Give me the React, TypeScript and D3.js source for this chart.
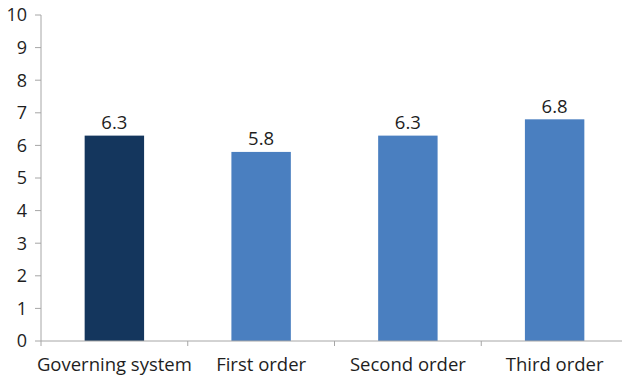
import React from "react";
import * as d3 from "d3";

const categories = ["Governing system", "First order", "Second order", "Third order"];
const values = [6.3, 5.8, 6.3, 6.8];
const yTicks = [0, 1, 2, 3, 4, 5, 6, 7, 8, 9, 10];
const barColors = ["#14365d", "#4a7fc0", "#4a7fc0", "#4a7fc0"];

const W = 622;
const H = 377;
const left = 41;
const right = 628;
const top = 15;
const bottom = 341;
const FONT = "'Open Sans', 'Noto Sans', sans-serif";
const AXIS = "#a6a6a6";
const TEXT = "#1e1e1e";

export default function App() {
  const x = d3.scaleBand<string>().domain(categories).range([left, right]).paddingInner(0).paddingOuter(0);
  const y = d3.scaleLinear().domain([0, 10]).range([bottom, top]);
  const bw = x.bandwidth() * 0.405;

  return (
    <svg width={W} height={H} style={{ position: "absolute", left: 0, top: 0 }}>
      {categories.map((c, i) => {
        const cx = (x(c) as number) + x.bandwidth() / 2;
        return (
          <g key={c}>
            <rect x={cx - bw / 2} y={y(values[i])} width={bw} height={bottom - y(values[i])} fill={barColors[i]} />
            <text x={cx} y={y(values[i]) - 6.5} textAnchor="middle" fontFamily={FONT} fontSize={18.5} fill={TEXT}>
              {values[i].toFixed(1)}
            </text>
            <text x={cx} y={bottom + 30} textAnchor="middle" fontFamily={FONT} fontSize={18.5} fill={TEXT}>
              {c}
            </text>
          </g>
        );
      })}
      {/* value axis */}
      <line x1={left} x2={left} y1={top} y2={bottom} stroke={AXIS} strokeWidth={1} />
      {yTicks.map((t) => (
        <g key={t}>
          <line x1={left - 6} x2={left} y1={y(t)} y2={y(t)} stroke={AXIS} strokeWidth={1} />
          <text x={left - 14} y={y(t)} dy="0.36em" textAnchor="end" fontFamily={FONT} fontSize={18} fill={TEXT}>
            {t}
          </text>
        </g>
      ))}
      {/* category axis */}
      <line x1={left} x2={W} y1={bottom} y2={bottom} stroke={AXIS} strokeWidth={1} />
      {categories.map((c) => (
        <line key={c} x1={x(c) as number} x2={x(c) as number} y1={bottom} y2={bottom + 5} stroke={AXIS} strokeWidth={1} />
      ))}
    </svg>
  );
}
